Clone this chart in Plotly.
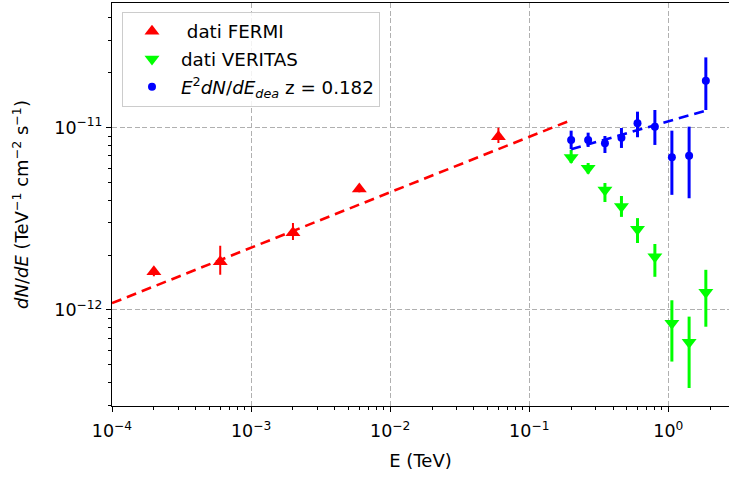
import plotly.graph_objects as go

# ---------------- data ----------------
fermi_E = [2e-4, 6e-4, 2e-3, 6e-3, 6e-2]
fermi_F = [1.62e-12, 1.84e-12, 2.65e-12, 4.61e-12, 8.92e-12]
fermi_up = [1.72e-12, 2.25e-12, 3.00e-12, 4.80e-12, 1.00e-11]
fermi_lo = [1.53e-12, 1.56e-12, 2.42e-12, 4.42e-12, 8.24e-12]

ver_E = [0.20, 0.265, 0.35, 0.46, 0.60, 0.80, 1.06, 1.41, 1.86]
ver_F = [6.87e-12, 5.98e-12, 4.55e-12, 3.69e-12, 2.77e-12, 1.96e-12, 8.45e-13, 6.65e-13, 1.25e-12]
ver_up = [7.57e-12, 6.40e-12, 4.97e-12, 4.22e-12, 3.19e-12, 2.30e-12, 1.13e-12, 9.19e-13, 1.66e-12]
ver_lo = [6.40e-12, 5.60e-12, 3.91e-12, 3.24e-12, 2.33e-12, 1.52e-12, 5.21e-13, 3.73e-13, 8.09e-13]

dea_E = [0.20, 0.265, 0.35, 0.46, 0.60, 0.80, 1.06, 1.41, 1.86]
dea_F = [8.57e-12, 8.57e-12, 8.21e-12, 8.81e-12, 1.057e-11, 1.013e-11, 6.89e-12, 7.02e-12, 1.81e-11]
dea_up = [9.63e-12, 9.39e-12, 9.00e-12, 9.96e-12, 1.224e-11, 1.25e-11, 9.63e-12, 1.013e-11, 2.43e-11]
dea_lo = [7.64e-12, 7.84e-12, 7.26e-12, 7.74e-12, 8.86e-12, 8.04e-12, 4.28e-12, 4.10e-12, 1.25e-11]

fit_fermi_E = [1e-4, 0.2]
fit_fermi_F = [1.09e-12, 1.10e-11]
fit_dea_E = [0.2, 1.86]
fit_dea_F = [7.62e-12, 1.24e-11]

x_tickvals = [1e-4, 1e-3, 1e-2, 1e-1, 1e0]
x_ticktext = ["10<sup>\u22124</sup>", "10<sup>\u22123</sup>", "10<sup>\u22122</sup>",
              "10<sup>\u22121</sup>", "10<sup>0</sup>"]
y_tickvals = [1e-12, 1e-11]
y_ticktext = ["10<sup>\u221212</sup>", "10<sup>\u221211</sup>"]

labels = ["\u00a0dati FERMI", "dati VERITAS",
          "<i>E</i><sup>2</sup><i>dN</i>/<i>dE</i><sub><i>dea</i></sub> z = 0.182"]

# --------------------------------------
def minor_vals(lo, hi):
    out = []
    for d in range(lo, hi + 1):
        for m in range(2, 10):
            out.append(m * 10.0 ** d)
    return out

def err(vals, up, lo):
    return dict(type="data", symmetric=False,
                array=[u - v for u, v in zip(up, vals)],
                arrayminus=[v - l for v, l in zip(vals, lo)])

FONT = "DejaVu Sans"
fig = go.Figure()

fig.add_trace(go.Scatter(
    x=fermi_E, y=fermi_F, mode="markers", name=labels[0], legendgroup="a",
    marker=dict(symbol="triangle-up", size=13, color="#ff0000"),
    error_y=dict(err(fermi_F, fermi_up, fermi_lo), color="#ff0000", thickness=2, width=0)))
fig.add_trace(go.Scatter(
    x=ver_E, y=ver_F, mode="markers", name=labels[1], legendgroup="b",
    marker=dict(symbol="triangle-down", size=13, color="#00ff00"),
    error_y=dict(err(ver_F, ver_up, ver_lo), color="#00ff00", thickness=3, width=0)))
fig.add_trace(go.Scatter(
    x=dea_E, y=dea_F, mode="markers", name=labels[2], legendgroup="c",
    marker=dict(symbol="circle", size=8, color="#0000ff"),
    error_y=dict(err(dea_F, dea_up, dea_lo), color="#0000ff", thickness=3, width=0)))
fig.add_trace(go.Scatter(
    x=fit_fermi_E, y=fit_fermi_F, mode="lines", showlegend=False,
    line=dict(color="#ff0000", width=2.6, dash="10px,6px")))
fig.add_trace(go.Scatter(
    x=fit_dea_E, y=fit_dea_F, mode="lines", showlegend=False,
    line=dict(color="#0000ff", width=2.6, dash="10px,6px")))

axis_common = dict(
    type="log", showline=True, linecolor="black", linewidth=1.2,
    ticks="outside", ticklen=5, tickwidth=1, tickcolor="black",
    showgrid=True, gridcolor="#b0b0b0", griddash="5px,2.5px", gridwidth=1,
    zeroline=False, tickmode="array",
    tickfont=dict(family=FONT, size=17.5, color="black"),
)

fig.update_layout(
    width=729, height=481,
    margin=dict(l=112, r=0, t=3, b=75),
    paper_bgcolor="white", plot_bgcolor="white",
    font=dict(family=FONT, size=18, color="black"),
    xaxis=dict(axis_common, range=[-4, 0.436], tickvals=x_tickvals, ticktext=x_ticktext,
               mirror=True, ticklabelstandoff=4,
               minor=dict(tickmode="array", tickvals=minor_vals(-4, 0), ticks="outside",
                          ticklen=3, tickcolor="black", showgrid=False),
               title=dict(text="E (TeV)", font=dict(family=FONT, size=18), standoff=14)),
    yaxis=dict(axis_common, range=[-12.527, -10.316], tickvals=y_tickvals, ticktext=y_ticktext,
               minor=dict(tickmode="array", tickvals=minor_vals(-13, -11), ticks="outside",
                          ticklen=3, tickcolor="black", showgrid=False),
               title=dict(text="<i>dN</i>/<i>dE</i> (TeV<sup>\u22121</sup> cm<sup>\u22122</sup> s<sup>\u22121</sup>)",
                          font=dict(family=FONT, size=18), standoff=20)),
    legend=dict(x=0.0162, y=0.978, xanchor="left", yanchor="top",
                bgcolor="rgba(255,255,255,0.85)", bordercolor="#cccccc", borderwidth=1,
                font=dict(family=FONT, size=18.3, color="black"),
                traceorder="grouped", tracegroupgap=1, itemwidth=48),
    showlegend=True,
)

fig.write_html("out.html", config={"displayModeBar": False},
               post_script="document.body.style.margin='0px';document.body.style.overflow='hidden';")
